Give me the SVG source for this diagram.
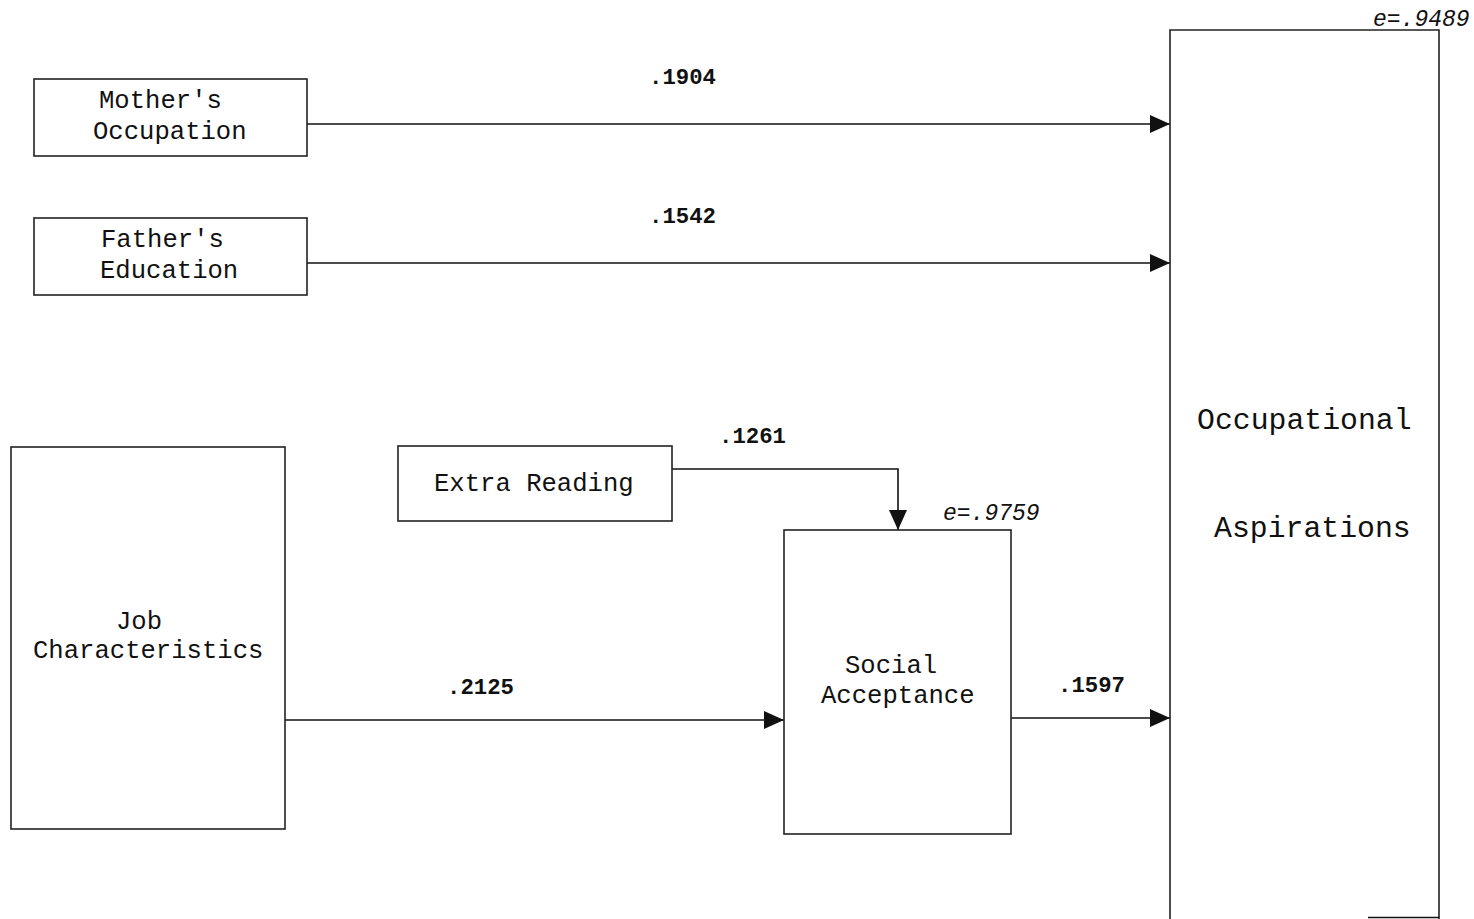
<svg xmlns="http://www.w3.org/2000/svg" width="1474" height="919" viewBox="0 0 1474 919">
<defs>
<style>
.box{fill:#fff;stroke:#222;stroke-width:1.6}
.t{font-family:"Liberation Mono","Courier New",monospace;font-size:25.6px;fill:#111}
.big{font-size:29.8px}
.lbl{font-family:"Liberation Mono","Courier New",monospace;font-size:22.3px;font-weight:bold;fill:#111}
.e{font-family:"Liberation Mono","Courier New",monospace;font-size:23px;font-style:italic;fill:#111}
.c{fill:none;stroke:#111;stroke-width:1.6}
</style>
<marker id="ah" viewBox="0 0 20 20" refX="20" refY="10" markerWidth="20" markerHeight="20" markerUnits="userSpaceOnUse" orient="auto">
<path d="M0,1 L20,10 L0,19 Z" fill="#111"/>
</marker>
</defs>
<rect width="1474" height="919" fill="#fff"/>
<g id="connectors">
<line class="c" x1="307" y1="124" x2="1170" y2="124" marker-end="url(#ah)"/>
<line class="c" x1="307" y1="263" x2="1170" y2="263" marker-end="url(#ah)"/>
<polyline class="c" points="672,469 898,469 898,530" marker-end="url(#ah)"/>
<line class="c" x1="285" y1="720" x2="784" y2="720" marker-end="url(#ah)"/>
<line class="c" x1="1011" y1="718" x2="1170" y2="718" marker-end="url(#ah)"/>
<text class="lbl" x="649" y="84">.1904</text>
<text class="lbl" x="649" y="223">.1542</text>
<text class="lbl" x="719" y="443">.1261</text>
<text class="lbl" x="447" y="694">.2125</text>
<text class="lbl" x="1058" y="692">.1597</text>
</g>
<g id="mothers-occupation">
<rect class="box" x="34" y="79" width="273" height="77"/>
<text class="t" x="99" y="108">Mother's</text>
<text class="t" x="93" y="139">Occupation</text>
</g>
<g id="fathers-education">
<rect class="box" x="34" y="218" width="273" height="77"/>
<text class="t" x="101" y="247">Father's</text>
<text class="t" x="100" y="278">Education</text>
</g>
<g id="job-characteristics">
<rect class="box" x="11" y="447" width="274" height="382"/>
<text class="t" x="116" y="629">Job</text>
<text class="t" x="33" y="658">Characteristics</text>
</g>
<g id="extra-reading">
<rect class="box" x="398" y="446" width="274" height="75"/>
<text class="t" x="434" y="491">Extra Reading</text>
</g>
<g id="social-acceptance">
<rect class="box" x="784" y="530" width="227" height="304"/>
<text class="t" x="845" y="673">Social</text>
<text class="t" x="821" y="703">Acceptance</text>
<text class="e" x="943" y="520">e=.9759</text>
</g>
<g id="occupational-aspirations">
<path class="box" d="M1170,925 L1170,30 L1439,30 L1439,925"/>
<line class="c" x1="1368" y1="917.5" x2="1439" y2="917.5" stroke="#555"/>
<text class="t big" x="1197" y="429">Occupational</text>
<text class="t big" x="1214" y="537">Aspirations</text>
<text class="e" x="1373" y="26">e=.9489</text>
</g>
</svg>
